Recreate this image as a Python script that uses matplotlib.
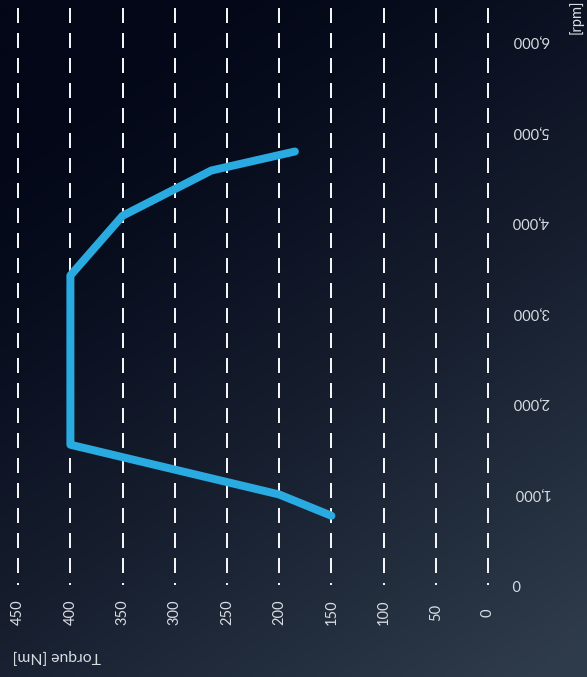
import numpy as np
import matplotlib
matplotlib.use("Agg")
import matplotlib.pyplot as plt

# torque curve
rpm = [765, 1000, 1550, 3420, 4080, 4580, 4790]
torque = [150, 200, 400, 400, 350, 265, 185]

torque_ticks = [0, 50, 100, 150, 200, 250, 300, 350, 400, 450]
rpm_ticks = [0, 1000, 2000, 3000, 4000, 5000, 6000]
rpm_labels = ["0", "1,000", "2,000", "3,000", "4,000", "5,000", "6,000"]

W, H, DPI = 587, 677, 100
plt.rcParams['lines.scale_dashes'] = False
plt.rcParams['font.family'] = ['Lato', 'DejaVu Sans']

fig = plt.figure(figsize=(W / DPI, H / DPI), dpi=DPI)

# background gradient, dark navy top-left to slate bottom-right
bg = fig.add_axes([0, 0, 1, 1], zorder=0)
yy, xx = np.mgrid[0:1:200j, 0:1:200j]
t = np.clip(0.75 * yy + 0.45 * xx - 0.15, 0, 1) ** 1.3
c0 = np.array([0x03, 0x07, 0x18]) / 255
c1 = np.array([0x2e, 0x3b, 0x4a]) / 255
img = c0 + (c1 - c0) * t[..., None]
bg.imshow(img, extent=[0, 1, 0, 1], aspect='auto', origin='upper')
bg.axis('off')

ax = fig.add_axes([0, 0, 1, 1], zorder=1)
ax.patch.set_alpha(0)
ax.axis('off')

# pixel mapping: torque 0 at x=488, 52.2 px per 50 Nm; rpm 0 at y=585, 90.5 px per 1000
sx = 52.2 / 50
sy = 90.5 / 1000
ax.set_xlim(488 / sx, (488 - W) / sx)
ax.set_ylim((585 - H) / sy, 585 / sy)

text_col = '#d9dee4'
px = 72 / DPI
for tq in torque_ticks:
    ax.plot([tq, tq], [0, 6600], color='#f2f4f6', lw=2 * px,
            linestyle=(13 * px, (15 * px, 10 * px)), solid_capstyle='butt',
            dash_capstyle='butt', zorder=2)
    ax.text(tq, -304, str(tq), rotation=90, ha='center', va='center',
            color=text_col, fontsize=10.5)

for r, lab in zip(rpm_ticks, rpm_labels):
    ax.text(-23, r + 20, lab, rotation=180, ha='left', va='center',
            color=text_col, fontsize=10.5)

ax.plot(torque, rpm, color='#29abe2', lw=8 * px, solid_capstyle='round',
        solid_joinstyle='round', zorder=3)

fig.text(57 / W, 1 - 656 / H, "Torque [Nm]", rotation=180, ha='center',
         va='center', color=text_col, fontsize=11.3)
fig.text(576 / W, 1 - 17 / H, "[rpm]", rotation=90, ha='center',
         va='center', color=text_col, fontsize=10.5)

fig.savefig("out.png", dpi=DPI)
